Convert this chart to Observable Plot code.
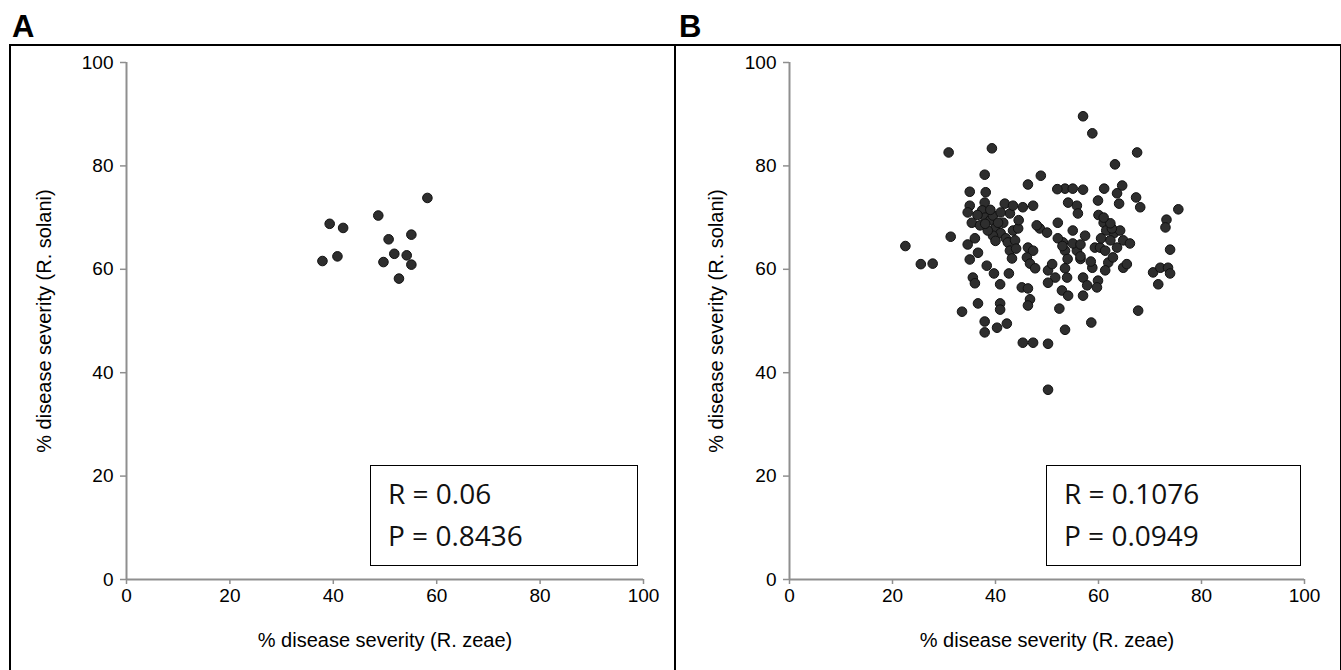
<!DOCTYPE html>
<html>
<head>
<meta charset="utf-8">
<script src="https://cdn.jsdelivr.net/npm/d3@7"></script>
<script src="https://cdn.jsdelivr.net/npm/@observablehq/plot@0.6"></script>
<style>
  html, body { margin: 0; padding: 0; background: white; }
  #page { position: relative; width: 1341px; height: 670px; overflow: hidden; background: white; font-family: "Liberation Sans", Arial, sans-serif; }
  .frame { position: absolute; border: 2px solid #000; box-sizing: border-box; }
  .plabel { position: absolute; font-weight: bold; font-size: 31px; font-family: "Liberation Sans", Arial, sans-serif; line-height: 1; }
  .stats { position: absolute; border: 1.5px solid #000; box-sizing: border-box; background: white; font-family: "Open Sans", sans-serif; font-size: 28px; line-height: 1.2; color: #111; }
  .stats div { position: absolute; left: 17px; white-space: nowrap; }
  .panel svg { position: absolute; }
</style>
</head>
<body>
<div id="page"></div>
<script>
// Panel A: % disease severity (R. zeae) vs (R. solani)
const zeaeA   = [58.2, 48.7, 39.3, 41.9, 55.1, 50.7, 51.8, 54.2, 40.8, 37.9, 49.7, 55.1, 52.7];
const solaniA = [73.8, 70.4, 68.8, 68.0, 66.7, 65.8, 63.0, 62.7, 62.5, 61.6, 61.4, 60.9, 58.2];

// Panel B
const zeaeB = [
  22.5, 25.5, 27.8, 30.9, 39.3, 31.3, 37.9, 35.0, 38.1, 37.9,
  37.4, 35.0, 34.6, 35.4, 38.0, 39.0, 40.0, 41.0, 39.5, 42.0,
  38.5, 40.0, 39.5, 41.8, 42.8, 43.4, 43.4, 42.4, 42.8, 43.2,
  34.6, 36.6, 35.0, 38.3, 39.7, 42.6, 35.6, 36.0, 40.9, 36.6,
  33.5, 40.9, 40.9, 37.9, 37.9, 40.3, 42.2, 45.3, 47.3, 50.2,
  50.2, 53.5, 58.6, 67.7, 52.4, 46.7, 46.3, 45.1, 46.3, 52.9,
  54.1, 57.0, 57.8, 57.0, 50.2, 51.6, 53.5, 53.9, 50.2, 61.9,
  61.3, 59.9, 59.7, 58.8, 46.3, 47.3, 46.1, 46.7, 47.7, 53.1,
  53.5, 55.8, 59.3, 60.3, 57.4, 55.0, 52.1, 48.6, 50.0, 44.4,
  43.8, 52.1, 45.3, 47.3, 54.1, 55.8, 56.0, 59.9, 60.0, 61.0,
  62.5, 63.0, 61.5, 48.8, 46.3, 53.5, 55.0, 57.0, 52.0, 61.1,
  57.0, 58.8, 67.5, 63.2, 64.6, 63.6, 64.0, 67.3, 68.1, 75.5,
  73.2, 73.0, 64.2, 73.9, 70.6, 72.0, 73.5, 73.9, 71.6, 64.8,
  66.1, 63.6, 62.8, 64.8, 61.3, 62.3, 62.6, 62.3, 55.0, 56.5,
  53.0, 54.0, 44.0, 36.0, 48.0, 56.5, 58.5, 60.5, 65.5, 41.5,
  36.5, 37.0, 39.0, 40.5, 41.0, 38.0, 44.5, 51.0, 56.5, 61.0
];
const solaniB = [
  64.5, 61.0, 61.1, 82.6, 83.4, 66.3, 78.3, 75.0, 74.9, 72.9,
  71.4, 72.3, 71.0, 69.0, 70.0, 69.5, 68.0, 67.0, 66.5, 66.0,
  67.5, 65.5, 70.4, 72.7, 70.8, 72.3, 67.5, 65.2, 63.6, 62.1,
  64.8, 63.2, 61.9, 60.7, 59.2, 59.2, 58.4, 57.3, 57.1, 53.4,
  51.8, 53.4, 52.2, 49.9, 47.8, 48.7, 49.5, 45.8, 45.8, 45.6,
  36.7, 48.3, 49.7, 52.0, 52.4, 54.2, 53.0, 56.5, 56.3, 55.9,
  54.9, 58.4, 56.9, 54.9, 59.8, 58.4, 60.2, 58.4, 57.4, 61.3,
  59.8, 57.8, 56.5, 60.3, 64.2, 63.6, 62.3, 61.1, 60.2, 65.2,
  63.6, 63.6, 64.2, 64.2, 66.5, 67.5, 66.0, 67.9, 67.1, 67.9,
  65.6, 69.0, 72.0, 72.3, 72.9, 72.3, 70.8, 73.3, 70.5, 69.0,
  68.0, 67.0, 67.5, 78.1, 76.4, 75.6, 75.6, 75.4, 75.5, 75.6,
  89.6, 86.3, 82.6, 80.3, 76.2, 74.7, 72.7, 73.9, 72.0, 71.6,
  69.6, 68.1, 67.5, 63.8, 59.4, 60.3, 60.3, 59.2, 57.1, 65.6,
  65.0, 64.2, 62.3, 60.3, 63.6, 65.6, 67.9, 68.9, 65.0, 64.8,
  64.5, 62.0, 64.0, 66.0, 68.5, 62.0, 61.5, 66.0, 61.0, 69.0,
  70.5, 68.5, 71.5, 69.0, 71.0, 68.8, 69.5, 61.0, 62.5, 70.0
];

const ticks = [0, 20, 40, 60, 80, 100];
const xTitle = "% disease severity (R. zeae)";
const yTitle = "% disease severity (R. solani)";
const statsA = ["R = 0.06", "P = 0.8436"];
const statsB = ["R = 0.1076", "P = 0.0949"];

const page = document.getElementById("page");

function panel(xs, ys, opts) {
  const data = xs.map((x, i) => ({x, y: ys[i]}));
  const axisColor = "#8f8f8f";
  const svg = Plot.plot({
    width: opts.width,
    height: 625,
    marginLeft: opts.ml,
    marginRight: opts.mr,
    marginTop: 17,
    marginBottom: 91,
    style: {background: "transparent", overflow: "visible", fontFamily: "'Liberation Sans', Arial, sans-serif"},
    x: {domain: [0, 100]},
    y: {domain: [0, 100]},
    marks: [
      Plot.axisX({ticks, tickSize: 5, tickPadding: 4, stroke: axisColor, strokeWidth: 1.5, fill: "#000", fontSize: 19, label: null}),
      Plot.axisY({ticks, tickSize: 6, tickPadding: 7, stroke: axisColor, strokeWidth: 1.5, fill: "#000", fontSize: 19, label: null}),
      Plot.ruleX([0], {stroke: axisColor, strokeWidth: 2}),
      Plot.ruleY([0], {stroke: axisColor, strokeWidth: 2}),
      Plot.dot(data, {x: "x", y: "y", r: 4.8, fill: "#2e2e2e", stroke: "#111", strokeWidth: 1}),
      Plot.text([xTitle], {frameAnchor: "bottom", textAnchor: "middle", lineAnchor: "middle", dy: 61, fontSize: 20, fill: "#000"}),
      Plot.text([yTitle], {frameAnchor: "left", textAnchor: "middle", lineAnchor: "middle", rotate: -90, dx: -(opts.ml - 44), fontSize: 20, fill: "#000"})
    ]
  });
  svg.style.left = opts.left + "px";
  svg.style.top = "45px";
  const wrap = document.createElement("div");
  wrap.className = "panel";
  wrap.appendChild(svg);
  page.appendChild(wrap);
}

panel(zeaeA, solaniA, {left: 0, width: 672, ml: 126, mr: 29});
panel(zeaeB, solaniB, {left: 672, width: 669, ml: 117, mr: 37});

function addFrame(l, t, w, h) {
  const f = document.createElement("div");
  f.className = "frame";
  Object.assign(f.style, {left: l + "px", top: t + "px", width: w + "px", height: h + "px"});
  page.appendChild(f);
}
addFrame(9, 44, 667, 640);
addFrame(674, 44, 668, 640);

function addLabel(txt, l) {
  const d = document.createElement("div");
  d.className = "plabel";
  d.textContent = txt;
  Object.assign(d.style, {left: l + "px", top: "11px"});
  page.appendChild(d);
}
addLabel("A", 12);
addLabel("B", 679);

function addStats(lines, l, w) {
  const d = document.createElement("div");
  d.className = "stats";
  Object.assign(d.style, {left: l + "px", top: "465px", width: w + "px", height: "101px"});
  lines.forEach((s, i) => {
    const t = document.createElement("div");
    t.textContent = s;
    t.style.top = (i === 0 ? 11 : 53) + "px";
    d.appendChild(t);
  });
  page.appendChild(d);
}
addStats(statsA, 370, 268);
addStats(statsB, 1046, 255);
</script>
</body>
</html>
